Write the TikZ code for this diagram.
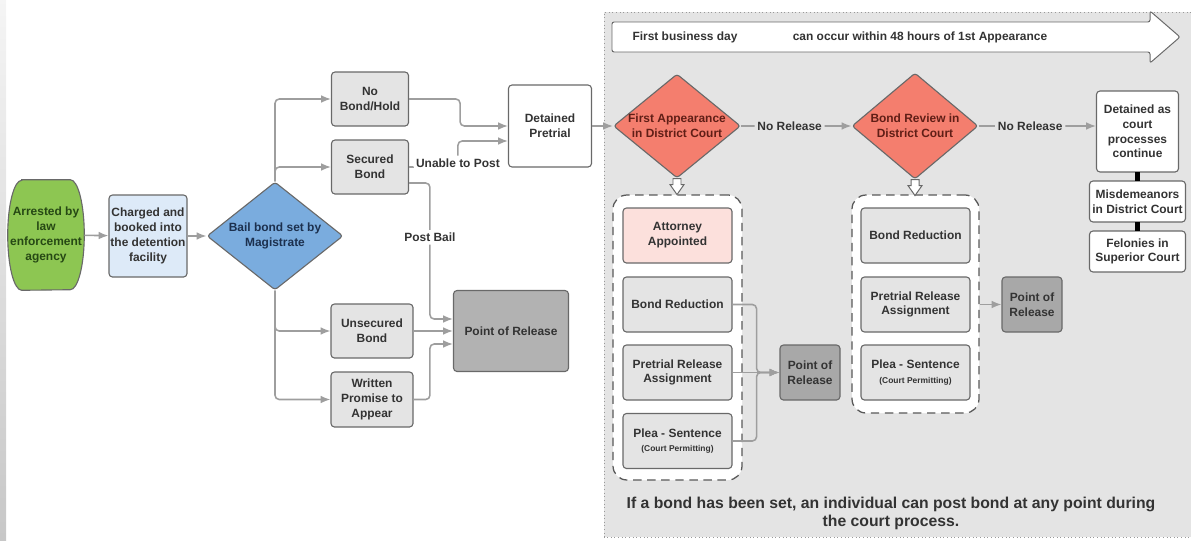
\documentclass[tikz,border=0pt]{standalone}
\usepackage{fontspec}
\setmainfont{Liberation Sans}
\usetikzlibrary{arrows.meta,calc,shapes.geometric,backgrounds}
\newcommand{\pxu}{0.025cm}
\definecolor{txt}{RGB}{51,51,51}
\definecolor{edge}{RGB}{105,105,105}
\definecolor{wire}{RGB}{158,158,158}
\definecolor{boxgray}{RGB}{228,228,228}
\definecolor{relgray}{RGB}{178,178,178}
\definecolor{relgraydk}{RGB}{168,168,168}
\definecolor{region}{RGB}{228,228,228}
\definecolor{arrestgreen}{RGB}{141,198,82}
\definecolor{arresttxt}{RGB}{38,72,20}
\definecolor{bookblue}{RGB}{221,234,248}
\definecolor{bailblue}{RGB}{122,172,222}
\definecolor{bailtxt}{RGB}{28,48,78}
\definecolor{courtred}{RGB}{244,126,110}
\definecolor{courttxt}{RGB}{96,30,22}
\definecolor{attypink}{RGB}{252,224,220}

\begin{document}
\begin{tikzpicture}[x=\pxu, y=-\pxu, >={Latex[length=7pt,width=5.5pt]},
  font=\bfseries\fontsize{8.5}{10.5}\selectfont, text=txt,
  sz/.style 2 args={minimum width=#1*\pxu, minimum height=#2*\pxu},
  box/.style={draw=edge, line width=0.8pt, rounded corners=2.5pt, align=center, inner sep=1pt},
  plain/.style={box, fill=white},
  opt/.style={box, fill=boxgray},
  rel/.style={box, fill=relgray},
  dia/.style={diamond, draw=edge, line width=0.8pt, align=center, inner sep=0pt, rounded corners=2pt},
  grp/.style={draw=black!65, line width=0.9pt, dash pattern=on 6pt off 4pt, fill=white, rounded corners=10pt},
  conn/.style={->, draw=wire, line width=1.1pt, rounded corners=3pt},
  lbl/.style={inner sep=2pt},
  hollow/.style={draw=edge, fill=white, line width=0.7pt},
  link/.style={line width=4.2pt, shorten >=-0.5pt, shorten <=-0.5pt}]
\useasboundingbox (0,0) rectangle (1191,540);

% booking and the magistrate's decision
\node[sz={76}{110}, align=center, inner sep=0pt, text=arresttxt] (arrest) at (46,235) {Arrested by\\law\\enforcement\\agency};
\node[box, fill=bookblue, sz={78}{82}] (booked) at (148,236) {Charged and\\booked into\\the detention\\facility};
\node[dia, fill=bailblue, text=bailtxt, sz={136}{108}, aspect=1.26] (bail) at (275,236) {Bail bond set by\\Magistrate};

\node[opt, sz={77}{54}] (nobond)    at (370,99)    {No\\Bond/Hold};
\node[opt, sz={77}{54}] (secured)   at (370,167)   {Secured\\Bond};
\node[opt, sz={82}{54}] (unsecured) at (372,331)   {Unsecured\\Bond};
\node[opt, sz={82}{55}] (promise)   at (372,399.5) {Written\\Promise to\\Appear};
\node[plain, sz={83}{82}] (detained) at (550,126)  {Detained\\Pretrial};
\node[rel, sz={115}{81}]  (release)  at (511,331)  {Point of Release};

\draw[conn] (arrest) -- (booked);
\draw[conn] (booked) -- (bail);
\draw[conn] (bail.north) |- (nobond.west);
\draw[conn] (bail.north) |- (secured.west);
\draw[conn] (bail.south) |- (unsecured.west);
\draw[conn] (bail.south) |- (promise.west);

\draw[conn] (nobond.east) -- ++(51,0) |- (detained.west);
\draw[conn] (secured.east) -| node[lbl, fill=white, pos=0.5, yshift=3pt]{Unable to Post}
            ($(detained.west)+(-50,15)$) -- ($(detained.west)+(0,15)$);
\draw[conn] ($(secured.east)+(0,16)$) -| node[lbl, fill=white, pos=0.70]{Post Bail}
            ($(release.west)+(-23,-12)$) -- ($(release.west)+(0,-12)$);
\draw[conn] (unsecured.east) -- (release.west);
\draw[conn] (promise.east) -| ($(release.west)+(-23,13)$) -- ($(release.west)+(0,13)$);

% the court part sits on its own grey panel
\node (firstday) at (685,37) {First business day};
\node (within)   at (920,37) {can occur within 48 hours of 1st Appearance};

\node[dia, fill=courtred, text=courttxt, sz={127}{104}, aspect=1.22, inner sep=-2.5pt] (first) at (677,126) {First Appearance\\in District Court};
\node[dia, fill=courtred, text=courttxt, sz={126}{106}, aspect=1.19] (review) at (915,126) {Bond Review in\\District Court};
\node[plain, sz={82}{81}] (ongoing) at (1137.5,131.5) {Detained as\\court\\processes\\continue};
\node[plain, sz={96}{41}] (misd)    at (1137.5,201.5) {Misdemeanors\\in District Court};
\node[plain, sz={96}{41}] (felony)  at (1137.5,251.5) {Felonies in\\Superior Court};

\draw[conn] (detained) -- (first);
\draw[conn] (first.east) -- node[lbl, fill=region, pos=0.44]{No Release} (review.west);
\draw[conn] (review.east) -- node[lbl, fill=region, pos=0.44]{No Release} (review.east -| ongoing.west);
\draw[link] (ongoing.south) -- (misd.north);
\draw[link] (misd.south) -- (felony.north);

\node[grp, sz={129}{285}] (stage1) at (677.5,337.5) {};
\node[grp, sz={127}{218}] (stage2) at (915.5,304) {};

\draw[hollow] ($(first.south)+(-4,0)$) -- ++(8,0) -- ++(0,6) -- ++(3,0) -- ++(-7,10) -- ++(-7,-10) -- ++(3,0) -- cycle;
\draw[hollow] ($(review.south)+(-4,0)$) -- ++(8,0) -- ++(0,6) -- ++(3,0) -- ++(-7,10) -- ++(-7,-10) -- ++(3,0) -- cycle;

\node[box, fill=attypink, sz={109}{55}] (attorney) at (677.5,235.5) {Attorney\\Appointed};
\node[opt, sz={109}{55}] (reduce1) at (677.5,304.5) {Bond Reduction};
\node[opt, sz={109}{55}] (assign1) at (677.5,372.5) {Pretrial Release\\Assignment};
\node[opt, sz={109}{55}] (plea1)   at (677.5,441)   {Plea - Sentence\\{\fontsize{6}{8}\selectfont(Court Permitting)}};
\node[rel, fill=relgraydk, sz={60}{55}] (release1) at (810,372.5) {Point of\\Release};

\draw[conn] (reduce1.east) -- ++(24,0) |- (release1.west);
\draw[conn] (plea1.east) -- ++(24,0) |- (release1.west);
\draw[conn] (assign1.east) -- (release1.west);

\node[opt, sz={109}{55}] (reduce2) at (915.5,235.5) {Bond Reduction};
\node[opt, sz={109}{55}] (assign2) at (915.5,304.5) {Pretrial Release\\Assignment};
\node[opt, sz={109}{55}] (plea2)   at (915.5,372.5) {Plea - Sentence\\{\fontsize{6}{8}\selectfont(Court Permitting)}};
\node[rel, fill=relgraydk, sz={60}{55}] (release2) at (1032,304.5) {Point of\\Release};

\draw[conn] (stage2.east |- assign2.east) -- (release2.west);

\node[font=\bfseries\fontsize{11.2}{12.8}\selectfont, align=center] (note) at (891,513)
  {If a bond has been set, an individual can post bond at any point during\\the court process.};

\begin{scope}[on background layer]
  \shade[top color=black!4, bottom color=black!22] (0,0) rectangle (6,540);
  \fill[region] (604,12) rectangle (1191,537);
  \draw[black!40, dotted, line width=0.6pt] (1191,12) -- (604,12) -- (604,537) -- (1191,537);
  % the timeline arrow across the top of the panel
  \draw[hollow, rounded corners=1.5pt] (612,22) -- (1150,22) -- (1150,11) -- (1180,37)
        -- (1150,63) -- (1150,52) -- (612,52) -- cycle;
  % barrel outline for the arrest node
  \draw[draw=edge, fill=arrestgreen, line width=0.8pt]
        ($(arrest.north west)+(14,0)$) -- ($(arrest.north east)+(-14,0)$)
        arc[start angle=90, end angle=-90, x radius=14*\pxu, y radius=55*\pxu]
        -- ($(arrest.south west)+(14,0)$)
        arc[start angle=270, end angle=90, x radius=14*\pxu, y radius=55*\pxu] -- cycle;
\end{scope}
\end{tikzpicture}
\end{document}
